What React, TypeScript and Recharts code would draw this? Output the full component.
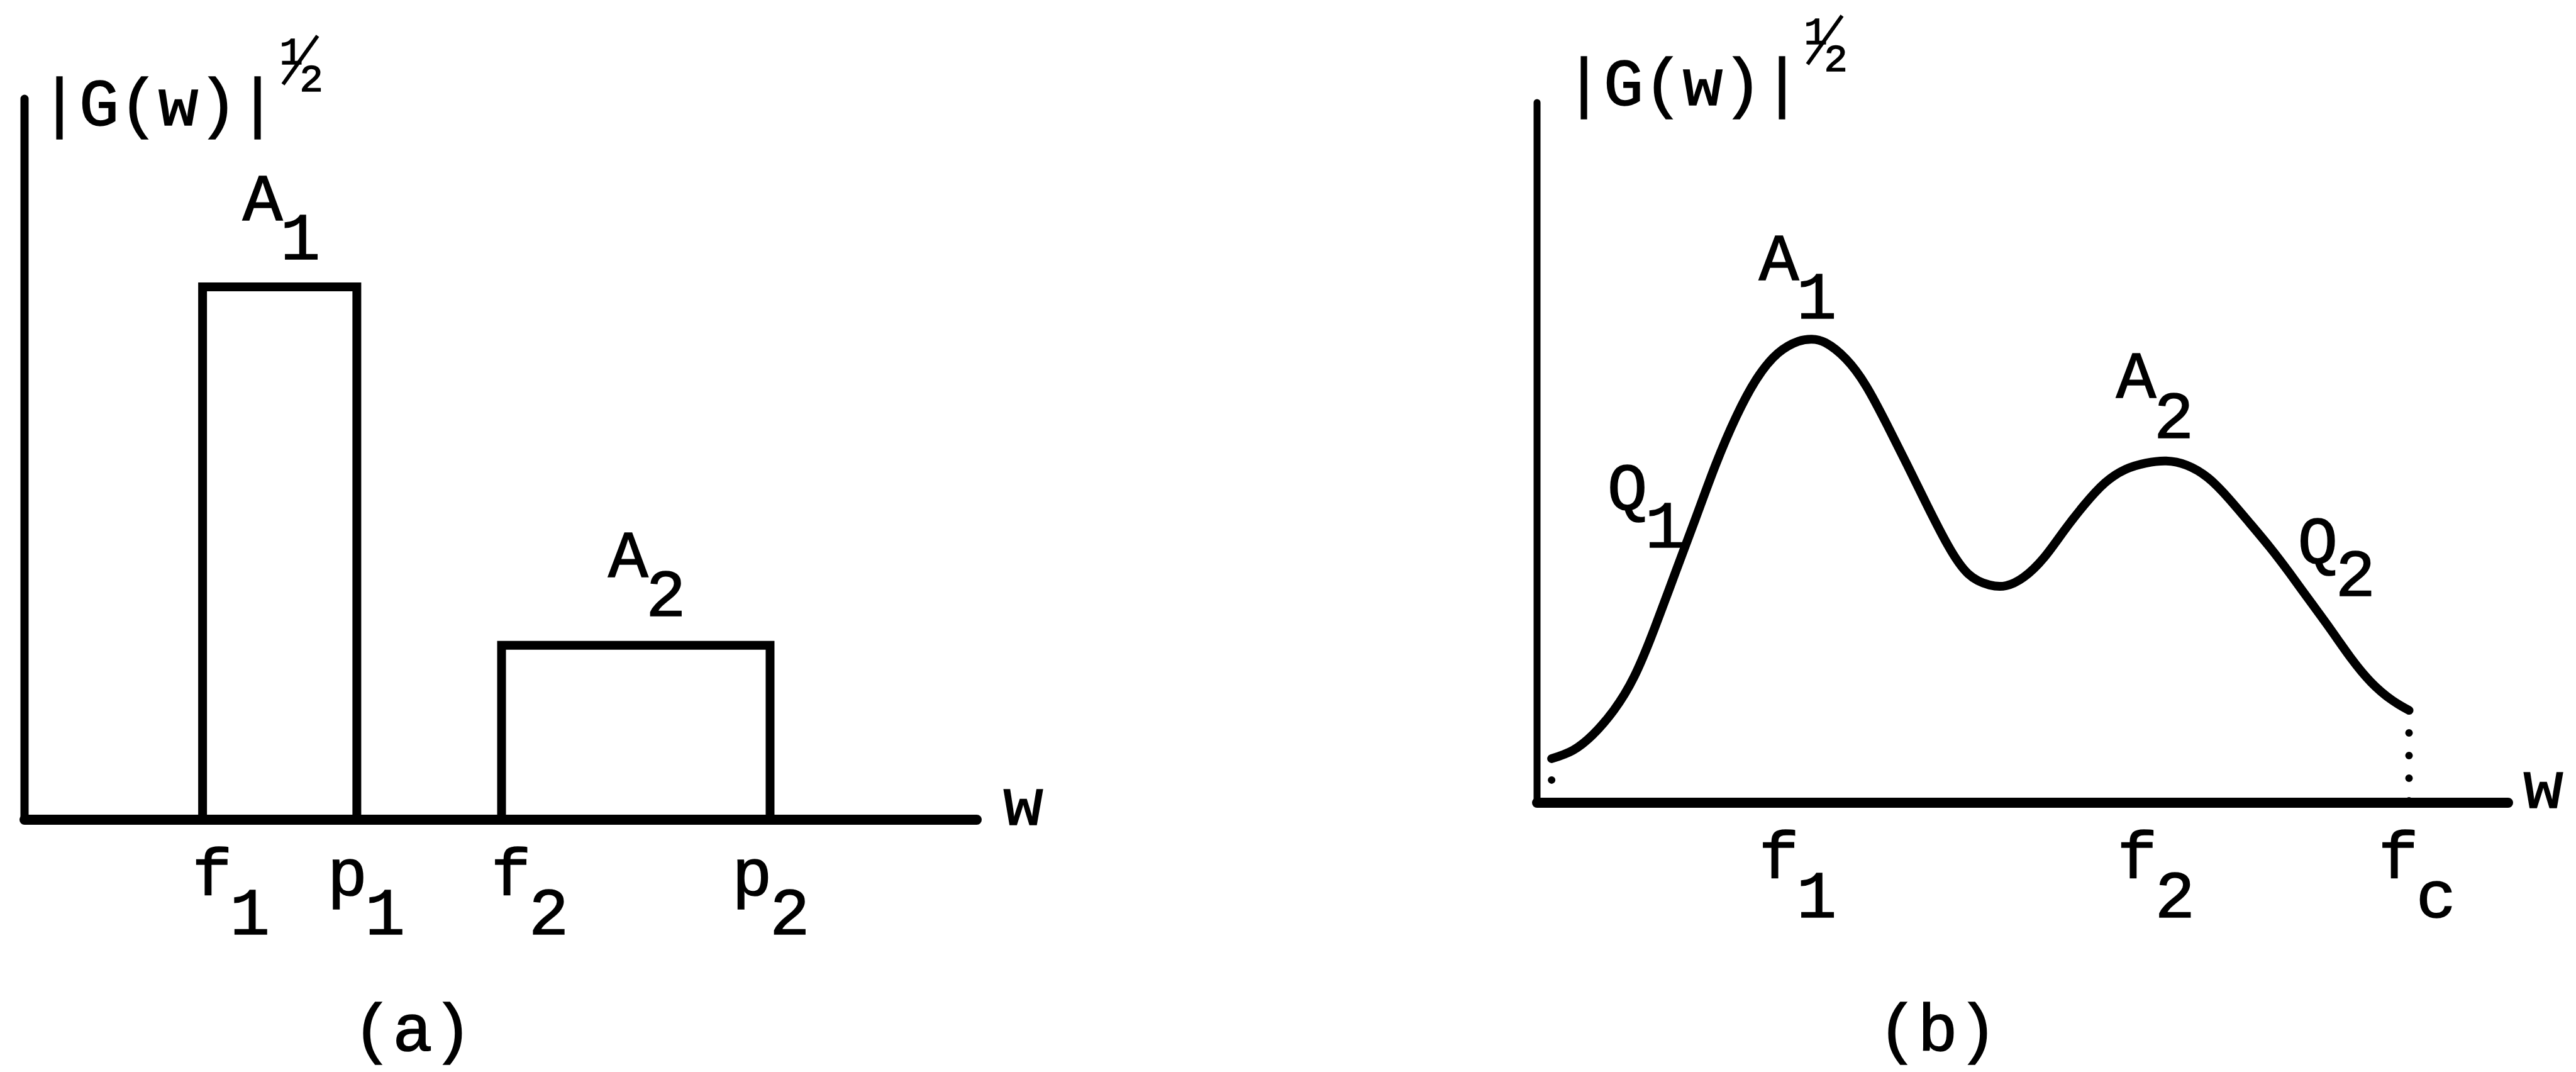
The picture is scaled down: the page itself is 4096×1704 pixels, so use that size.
import { ComposedChart, Line, XAxis, YAxis, ReferenceDot } from 'recharts'

const FONT = '"Liberation Mono", "DejaVu Sans Mono", monospace'
const FS = 106
const PITCH = 63
const SUB_DX = 60
const INK = '#000'

const CHART_W = 2048
const CHART_H = 1704

// (a) ideal pass bands: lower edge f, upper edge p, height A
const bandLow = [18.7, 50.1]
const bandHigh = [34.9, 78.3]
const bandAmp = [73.9, 24.2]
const aTicks = [19.7, 33.9, 51.1, 76.4]
const aTickNames = ['f', 'p', 'f', 'p']
const aTickSubs = ['1', '1', '2', '2']
const aPeakX = [25.0, 63.4]
const aPeakY = [83.2, 33.7]
const aPeakSubs = ['1', '2']

// (b) measured magnitude, w vs |G(w)|^1/2
const specW = [
  1.5, 3.7, 5.8, 7.9, 10.0, 12.1, 14.2, 16.3, 18.4, 20.5, 22.6, 24.8, 26.9, 28.3, 29.7,
  31.8, 33.9, 36.0, 38.1, 40.2, 42.3, 44.4, 46.6, 48.3, 50.1, 52.2, 54.3, 56.4, 58.5,
  60.6, 62.7, 64.8, 66.9, 69.1, 71.2, 73.3, 75.4, 77.5, 79.6, 81.7, 83.8, 85.9, 88.0, 89.8,
]
const specG = [
  6.3, 7.5, 9.8, 13.2, 18.0, 24.9, 32.7, 40.5, 48.3, 55.1, 60.5, 64.2, 65.9, 66.2, 65.7,
  63.4, 59.5, 54.1, 48.3, 42.4, 36.8, 32.7, 31.1, 31.0, 32.2, 35.0, 38.9, 42.6, 45.7,
  47.6, 48.5, 48.8, 48.2, 46.4, 43.5, 40.1, 36.6, 32.8, 28.8, 24.8, 20.7, 17.2, 14.7, 13.2,
]
const bTicks = [24.9, 61.8, 88.7]
const bTickNames = ['f', 'f', 'f']
const bTickSubs = ['1', '2', 'c']
const bNoteNames = ['A', 'A', 'Q', 'Q']
const bNoteSubs = ['1', '2', '1', '2']
const bNoteX = [24.9, 61.7, 9.3, 80.4]
const bNoteY = [74.7, 57.9, 41.9, 34.2]

// how far each subscript sits below its letter
const SUB_DROP = 62
const B_NOTE_DROP = [61, 64, 60, 52]

type Pt = { w: number; g: number }

const bandOutlines: Pt[][] = bandLow.map((lo, i) => [
  { w: lo, g: 0 },
  { w: lo, g: bandAmp[i] },
  { w: bandHigh[i], g: bandAmp[i] },
  { w: bandHigh[i], g: 0 },
])

const spectrum: Pt[] = specW.map((w, i) => ({ w, g: specG[i] }))
const first = spectrum[0]
const last = spectrum[spectrum.length - 1]
const dropLeft: Pt[] = [first, { w: first.w, g: 0 }]
const dropRight: Pt[] = [last, { w: last.w, g: 0 }]

const textStyle = {
  fontFamily: FONT,
  fontSize: FS,
  fill: INK,
  stroke: INK,
  strokeWidth: 1.6,
}

function Subscripted({ x, y, main, sub, drop }: { x: number; y: number; main: string; sub: string; drop: number }) {
  return (
    <g {...textStyle}>
      <text x={x} y={y} textAnchor="middle">{main}</text>
      <text x={x + SUB_DX} y={y + drop} textAnchor="middle">{sub}</text>
    </g>
  )
}

function tickRenderer(ticks: number[], names: string[], subs: string[]) {
  return (props: any) => {
    const { x, y, payload } = props
    const i = ticks.indexOf(payload.value)
    if (i < 0) return <g />
    return <Subscripted x={x} y={y + 120} main={names[i]} sub={subs[i]} drop={SUB_DROP} />
  }
}

function centerOf(viewBox: any) {
  return { cx: viewBox.x + (viewBox.width || 0) / 2, cy: viewBox.y + (viewBox.height || 0) / 2 }
}

// |G(w)|^1/2 written above the vertical axis
function AxisTitle({ viewBox, dx, dy }: { viewBox: any; dx: number; dy: number }) {
  const left = viewBox.x + viewBox.width + dx
  const base = viewBox.y + dy
  return (
    <g {...textStyle}>
      {'|G(w)|'.split('').map((c, i) => (
        <text key={i} x={left + (i + 0.5) * PITCH} y={base} textAnchor="middle">{c}</text>
      ))}
      <text x={left + 400} y={base - 97} textAnchor="middle" fontSize={62}>1</text>
      <line x1={left + 387} y1={base - 65} x2={left + 442} y2={base - 142} strokeWidth={6} />
      <text x={left + 432} y={base - 54} textAnchor="middle" fontSize={62}>2</text>
    </g>
  )
}

function AxisEnd({ viewBox, wDx, captionDx, caption }: { viewBox: any; wDx: number; captionDx: number; caption: string }) {
  const right = viewBox.x + viewBox.width
  return (
    <g {...textStyle}>
      <text x={right + wDx} y={viewBox.y + 8} textAnchor="middle">w</text>
      <text x={viewBox.x + captionDx} y={CHART_H - 34} textAnchor="middle">{caption}</text>
    </g>
  )
}

const lineProps = {
  stroke: INK,
  dot: false,
  activeDot: false,
  isAnimationActive: false,
  legendType: 'none' as const,
}

function BandChart() {
  return (
    <ComposedChart width={CHART_W} height={CHART_H} margin={{ top: 157, right: 495, bottom: 371, left: 9 }}>
      <XAxis
        type="number"
        dataKey="w"
        domain={[0, 100]}
        ticks={aTicks}
        interval={0}
        height={30}
        tickLine={false}
        tickSize={0}
        tickMargin={0}
        axisLine={{ stroke: INK, strokeWidth: 16, strokeLinecap: 'round' }}
        tick={tickRenderer(aTicks, aTickNames, aTickSubs)}
        label={{ content: (p: any) => <AxisEnd viewBox={p.viewBox} wDx={74} captionDx={617} caption="(a)" /> }}
      />
      <YAxis
        type="number"
        domain={[0, 100]}
        width={30}
        tick={false}
        tickLine={false}
        axisLine={{ stroke: INK, strokeWidth: 13, strokeLinecap: 'round' }}
        label={{ content: (p: any) => <AxisTitle viewBox={p.viewBox} dx={24} dy={42} /> }}
      />
      {bandOutlines.map((band, i) => (
        <Line key={i} data={band} dataKey="g" type="linear" strokeWidth={14} {...lineProps} />
      ))}
      {aPeakX.map((x, i) => (
        <ReferenceDot
          key={i}
          x={x}
          y={aPeakY[i]}
          r={1}
          fill="none"
          stroke="none"
          label={{
            content: (p: any) => {
              const { cx, cy } = centerOf(p.viewBox)
              return <Subscripted x={cx} y={cy} main="A" sub={aPeakSubs[i]} drop={SUB_DROP} />
            },
          }}
        />
      ))}
    </ComposedChart>
  )
}

function SpectrumChart() {
  return (
    <ComposedChart width={CHART_W} height={CHART_H} margin={{ top: 163, right: 108, bottom: 398, left: 366 }}>
      <XAxis
        type="number"
        dataKey="w"
        domain={[0, 100]}
        ticks={bTicks}
        interval={0}
        height={30}
        tickLine={false}
        tickSize={0}
        tickMargin={0}
        axisLine={{ stroke: INK, strokeWidth: 16, strokeLinecap: 'round' }}
        tick={tickRenderer(bTicks, bTickNames, bTickSubs)}
        label={{ content: (p: any) => <AxisEnd viewBox={p.viewBox} wDx={56} captionDx={637} caption="(b)" /> }}
      />
      <YAxis
        type="number"
        domain={[0, 100]}
        width={30}
        tick={false}
        tickLine={false}
        axisLine={{ stroke: INK, strokeWidth: 11, strokeLinecap: 'round' }}
        label={{ content: (p: any) => <AxisTitle viewBox={p.viewBox} dx={43} dy={4} /> }}
      />
      <Line data={dropLeft} dataKey="g" type="linear" strokeWidth={12} strokeDasharray="0 34" strokeLinecap="round" {...lineProps} />
      <Line data={dropRight} dataKey="g" type="linear" strokeWidth={12} strokeDasharray="0 36" strokeLinecap="round" {...lineProps} />
      <Line data={spectrum} dataKey="g" type="natural" strokeWidth={14} strokeLinecap="round" {...lineProps} />
      {bNoteX.map((x, i) => (
        <ReferenceDot
          key={i}
          x={x}
          y={bNoteY[i]}
          r={1}
          fill="none"
          stroke="none"
          label={{
            content: (p: any) => {
              const { cx, cy } = centerOf(p.viewBox)
              return <Subscripted x={cx} y={cy} main={bNoteNames[i]} sub={bNoteSubs[i]} drop={B_NOTE_DROP[i]} />
            },
          }}
        />
      ))}
    </ComposedChart>
  )
}

export default function App() {
  return (
    <div style={{ position: 'absolute', left: 0, top: 0, width: 4096, height: 1704, background: '#fff', overflow: 'hidden' }}>
      <div style={{ position: 'absolute', left: 0, top: 0 }}>
        <BandChart />
      </div>
      <div style={{ position: 'absolute', left: CHART_W, top: 0 }}>
        <SpectrumChart />
      </div>
    </div>
  )
}
